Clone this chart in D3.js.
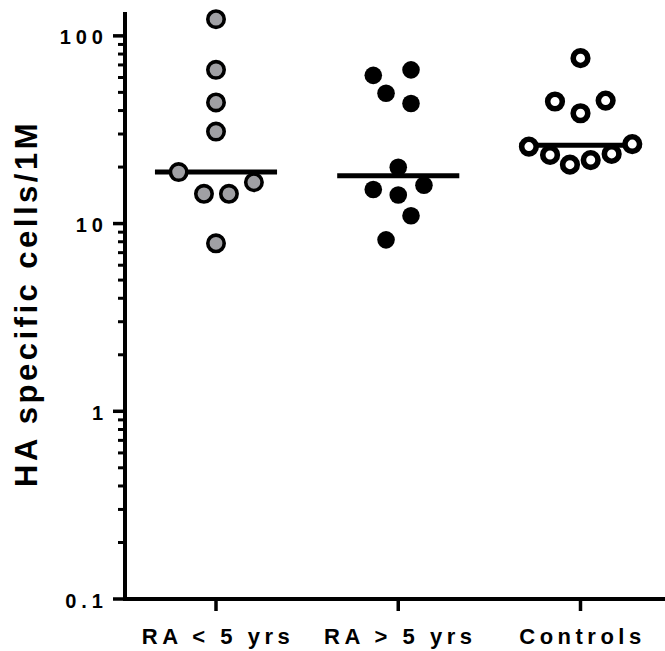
<!DOCTYPE html>
<html>
<head>
<meta charset="utf-8">
<script src="https://cdn.jsdelivr.net/npm/d3@7"></script>
<style>
  html, body { margin: 0; padding: 0; background: #fff; }
  svg { display: block; }
  text { font-family: Arial, "Liberation Sans", sans-serif; font-weight: bold; fill: #000; }
</style>
</head>
<body>
<script>
// ---- data ----
const categories = ["RA < 5 yrs", "RA > 5 yrs", "Controls"];
const valuesRAlt5 = [122.7, 65.9, 44.2, 30.9, 18.8, 14.4, 14.4, 16.6, 7.85];
const valuesRAgt5 = [65.9, 61.6, 49.5, 43.6, 19.95, 15.2, 14.2, 16.0, 11.0, 8.19];
const valuesControls = [76.1, 44.7, 45.2, 38.7, 25.7, 26.5, 23.2, 23.5, 20.6, 21.8];
// horizontal scatter (jitter) of each point, in units of the category step
const jitterRAlt5 = [0, 0, 0, 0, -0.205, -0.066, 0.071, 0.208, 0];
const jitterRAgt5 = [0.070, -0.137, -0.067, 0.070, 0, -0.137, 0, 0.141, 0.070, -0.067];
const jitterControls = [0, -0.140, 0.138, 0, -0.283, 0.284, -0.167, 0.171, -0.058, 0.056];
const yTickValues = [0.1, 1, 10, 100];
const yTickLabels = ["0.1", "1", "10", "100"];
const yTitle = "HA specific cells/1M";

const groups = [
  { name: categories[0], values: valuesRAlt5, jitter: jitterRAlt5, style: "gray" },
  { name: categories[1], values: valuesRAgt5, jitter: jitterRAgt5, style: "black" },
  { name: categories[2], values: valuesControls, jitter: jitterControls, style: "open" }
];

const W = 665, H = 651;
const svg = d3.select("body").append("svg").attr("width", W).attr("height", H);

const y = d3.scaleLog().domain([0.1, 134]).range([599, 12]);
const x = d3.scalePoint().domain(categories).range([216, 580.5]);
const step = x.step();

// ---- y axis ----
const axisX = 125;
const gy = svg.append("g");
gy.append("line").attr("x1", axisX).attr("x2", axisX)
  .attr("y1", y(134)).attr("y2", y(0.1) + 2)
  .attr("stroke", "#000").attr("stroke-width", 4);

const minor = [];
[0.1, 1, 10].forEach(d => { for (let k = 2; k <= 9; k++) minor.push(d * k); });
gy.selectAll("line.minor").data(minor).enter().append("line")
  .attr("class", "minor")
  .attr("x1", axisX - 7).attr("x2", axisX)
  .attr("y1", d => y(d)).attr("y2", d => y(d))
  .attr("stroke", "#000").attr("stroke-width", 3);
gy.selectAll("line.major").data(yTickValues).enter().append("line")
  .attr("class", "major")
  .attr("x1", axisX - 12).attr("x2", axisX)
  .attr("y1", d => y(d)).attr("y2", d => y(d))
  .attr("stroke", "#000").attr("stroke-width", 3.5);
gy.selectAll("text.tl").data(yTickValues).enter().append("text")
  .attr("class", "tl")
  .attr("x", 108).attr("y", d => y(d) + 8.5)
  .attr("text-anchor", "end")
  .style("font-size", "20px").style("letter-spacing", "5px")
  .text((d, i) => yTickLabels[i]);

// ---- x axis ----
const gx = svg.append("g");
gx.append("line").attr("x1", axisX - 2).attr("x2", W)
  .attr("y1", y(0.1)).attr("y2", y(0.1))
  .attr("stroke", "#000").attr("stroke-width", 4);
gx.selectAll("line.xt").data(categories).enter().append("line")
  .attr("class", "xt")
  .attr("x1", d => x(d)).attr("x2", d => x(d))
  .attr("y1", y(0.1)).attr("y2", y(0.1) + 12)
  .attr("stroke", "#000").attr("stroke-width", 3.5);
gx.selectAll("text.xl").data(categories).enter().append("text")
  .attr("class", "xl")
  .attr("x", d => x(d) + 2).attr("y", 644)
  .attr("text-anchor", "middle")
  .style("font-size", "22px").style("letter-spacing", "4.5px")
  .text(d => d);

// ---- y title ----
svg.append("text")
  .attr("transform", "translate(37,305) rotate(-90)")
  .attr("text-anchor", "middle")
  .attr("dx", 1.5)
  .style("font-size", "31px").style("letter-spacing", "3.5px")
  .text(yTitle);

// ---- medians ----
svg.selectAll("line.median").data(groups).enter().append("line")
  .attr("class", "median")
  .attr("x1", d => x(d.name) - step * 0.335)
  .attr("x2", d => x(d.name) + step * 0.335)
  .attr("y1", d => y(d3.median(d.values)))
  .attr("y2", d => y(d3.median(d.values)))
  .attr("stroke", "#000").attr("stroke-width", 5);

// ---- points ----
groups.forEach(g => {
  const pts = g.values.map((v, i) => ({ v, j: g.jitter[i] }));
  const sel = svg.append("g").selectAll("circle").data(pts).enter().append("circle")
    .attr("cx", d => x(g.name) + d.j * step)
    .attr("cy", d => y(d.v));
  if (g.style === "gray") {
    sel.attr("r", 8.2).attr("fill", "#a0a0a4").attr("stroke", "#000").attr("stroke-width", 3.6);
  } else if (g.style === "black") {
    sel.attr("r", 8.8).attr("fill", "#000");
  } else {
    sel.attr("r", 7.3).attr("fill", "#fff").attr("stroke", "#000").attr("stroke-width", 5.6);
  }
});
</script>
</body>
</html>
